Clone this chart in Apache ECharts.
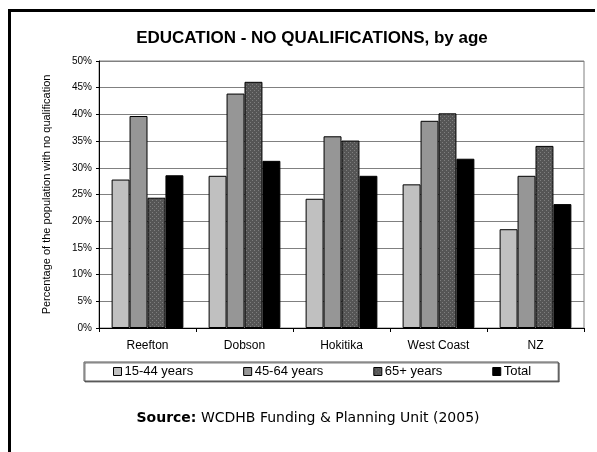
<!DOCTYPE html>
<html>
<head>
<meta charset="utf-8">
<script src="https://cdn.jsdelivr.net/npm/echarts@6/dist/echarts.min.js"></script>
<style>
html,body{margin:0;padding:0;background:#fff;}
#main{width:597px;height:452px;}
</style>
</head>
<body>
<div id="main"></div>
<script>
const categories = ['Reefton', 'Dobson', 'Hokitika', 'West Coast', 'NZ'];
const seriesNames = ['15-44 years', '45-64 years', '65+ years', 'Total'];
const age15to44 = [27.8, 28.5, 24.2, 26.9, 18.5];
const age45to64 = [39.7, 43.9, 35.9, 38.8, 28.5];
const age65plus = [24.4, 46.1, 35.1, 40.2, 34.1];
const total = [28.6, 31.3, 28.5, 31.7, 23.2];
const yTicks = [0, 5, 10, 15, 20, 25, 30, 35, 40, 45, 50];

// dotted pattern for 65+ series
const pc = document.createElement('canvas');
pc.width = 4; pc.height = 4;
const pctx = pc.getContext('2d');
pctx.fillStyle = '#555555';
pctx.fillRect(0, 0, 4, 4);
pctx.fillStyle = '#7e7e7e';
pctx.fillRect(0, 0, 1, 1);
pctx.fillRect(2, 2, 1, 1);
const pattern = { image: pc, repeat: 'repeat' };

const colors = ['#c0c0c0', '#969696', pattern, '#000000'];
const dataSets = [age15to44, age45to64, age65plus, total];

const chart = echarts.init(document.getElementById('main'), null, { renderer: 'canvas' });

const series = dataSets.map((d, i) => ({
  name: seriesNames[i],
  type: 'bar',
  data: d,
  barGap: '0%',
  barCategoryGap: '26%',
  itemStyle: { color: colors[i], borderColor: '#000', borderWidth: 1 },
  emphasis: { disabled: true },
  animation: false
}));

chart.setOption({
  animation: false,
  textStyle: { fontFamily: 'Liberation Sans, Arial, sans-serif' },
  title: {
    text: 'EDUCATION - NO QUALIFICATIONS, by age',
    left: 307,
    textAlign: 'center',
    top: 25,
    textStyle: { fontSize: 17, fontWeight: 'bold', color: '#000', fontFamily: 'Liberation Sans, Arial, sans-serif' }
  },
  grid: {
    left: 99, right: 13, top: 61, bottom: 124,
    show: true, borderColor: '#808080', borderWidth: 1, backgroundColor: '#fff'
  },
  legend: {
    data: seriesNames,
    left: 84,
    top: 362,
    padding: [3, 27, 3, 29],
    itemGap: 50,
    itemWidth: 8,
    itemHeight: 8,
    itemStyle: { borderColor: '#000', borderWidth: 1 },
    borderColor: '#555',
    borderWidth: 1,
    shadowColor: 'rgba(0,0,0,0.5)',
    shadowOffsetX: 1,
    shadowOffsetY: 1,
    backgroundColor: '#fff',
    icon: 'rect',
    textStyle: { fontSize: 13, color: '#000', padding: [0, 0, 0, -2] }
  },
  xAxis: {
    type: 'category',
    data: categories,
    axisLine: { lineStyle: { color: '#000', width: 1 } },
    axisTick: { show: true, length: 4, alignWithLabel: false, lineStyle: { color: '#000' } },
    axisLabel: { fontSize: 12, color: '#000', margin: 12 }
  },
  yAxis: {
    type: 'value',
    min: 0, max: 50, interval: 5,
    name: 'Percentage of the population with no qualification',
    nameLocation: 'middle',
    nameGap: 47,
    nameTextStyle: { fontSize: 11, color: '#000' },
    axisLine: { show: true, lineStyle: { color: '#000', width: 1 } },
    axisTick: { show: true, length: 3, lineStyle: { color: '#000' } },
    axisLabel: {
      fontSize: 10, color: '#000', margin: 7,
      formatter: v => (yTicks.indexOf(v) >= 0 ? v + '%' : '')
    },
    splitLine: { show: true, lineStyle: { color: '#808080', width: 1 } }
  },
  graphic: [
    { type: 'rect', shape: { x: 8, y: 9, width: 3, height: 443 }, style: { fill: '#000' }, silent: true },
    { type: 'rect', shape: { x: 8, y: 9, width: 587, height: 3 }, style: { fill: '#000' }, silent: true },
    {
      type: 'text',
      x: 308, y: 418,
      style: {
        text: '{b|Source:} WCDHB Funding & Planning Unit (2005)',
        align: 'center', verticalAlign: 'middle',
        font: '14px DejaVu Sans',
        fill: '#000',
        rich: { b: { fontWeight: 'bold', fontSize: 14, fontFamily: 'DejaVu Sans' } }
      },
      silent: true
    }
  ],
  series: series
});
</script>
</body>
</html>
